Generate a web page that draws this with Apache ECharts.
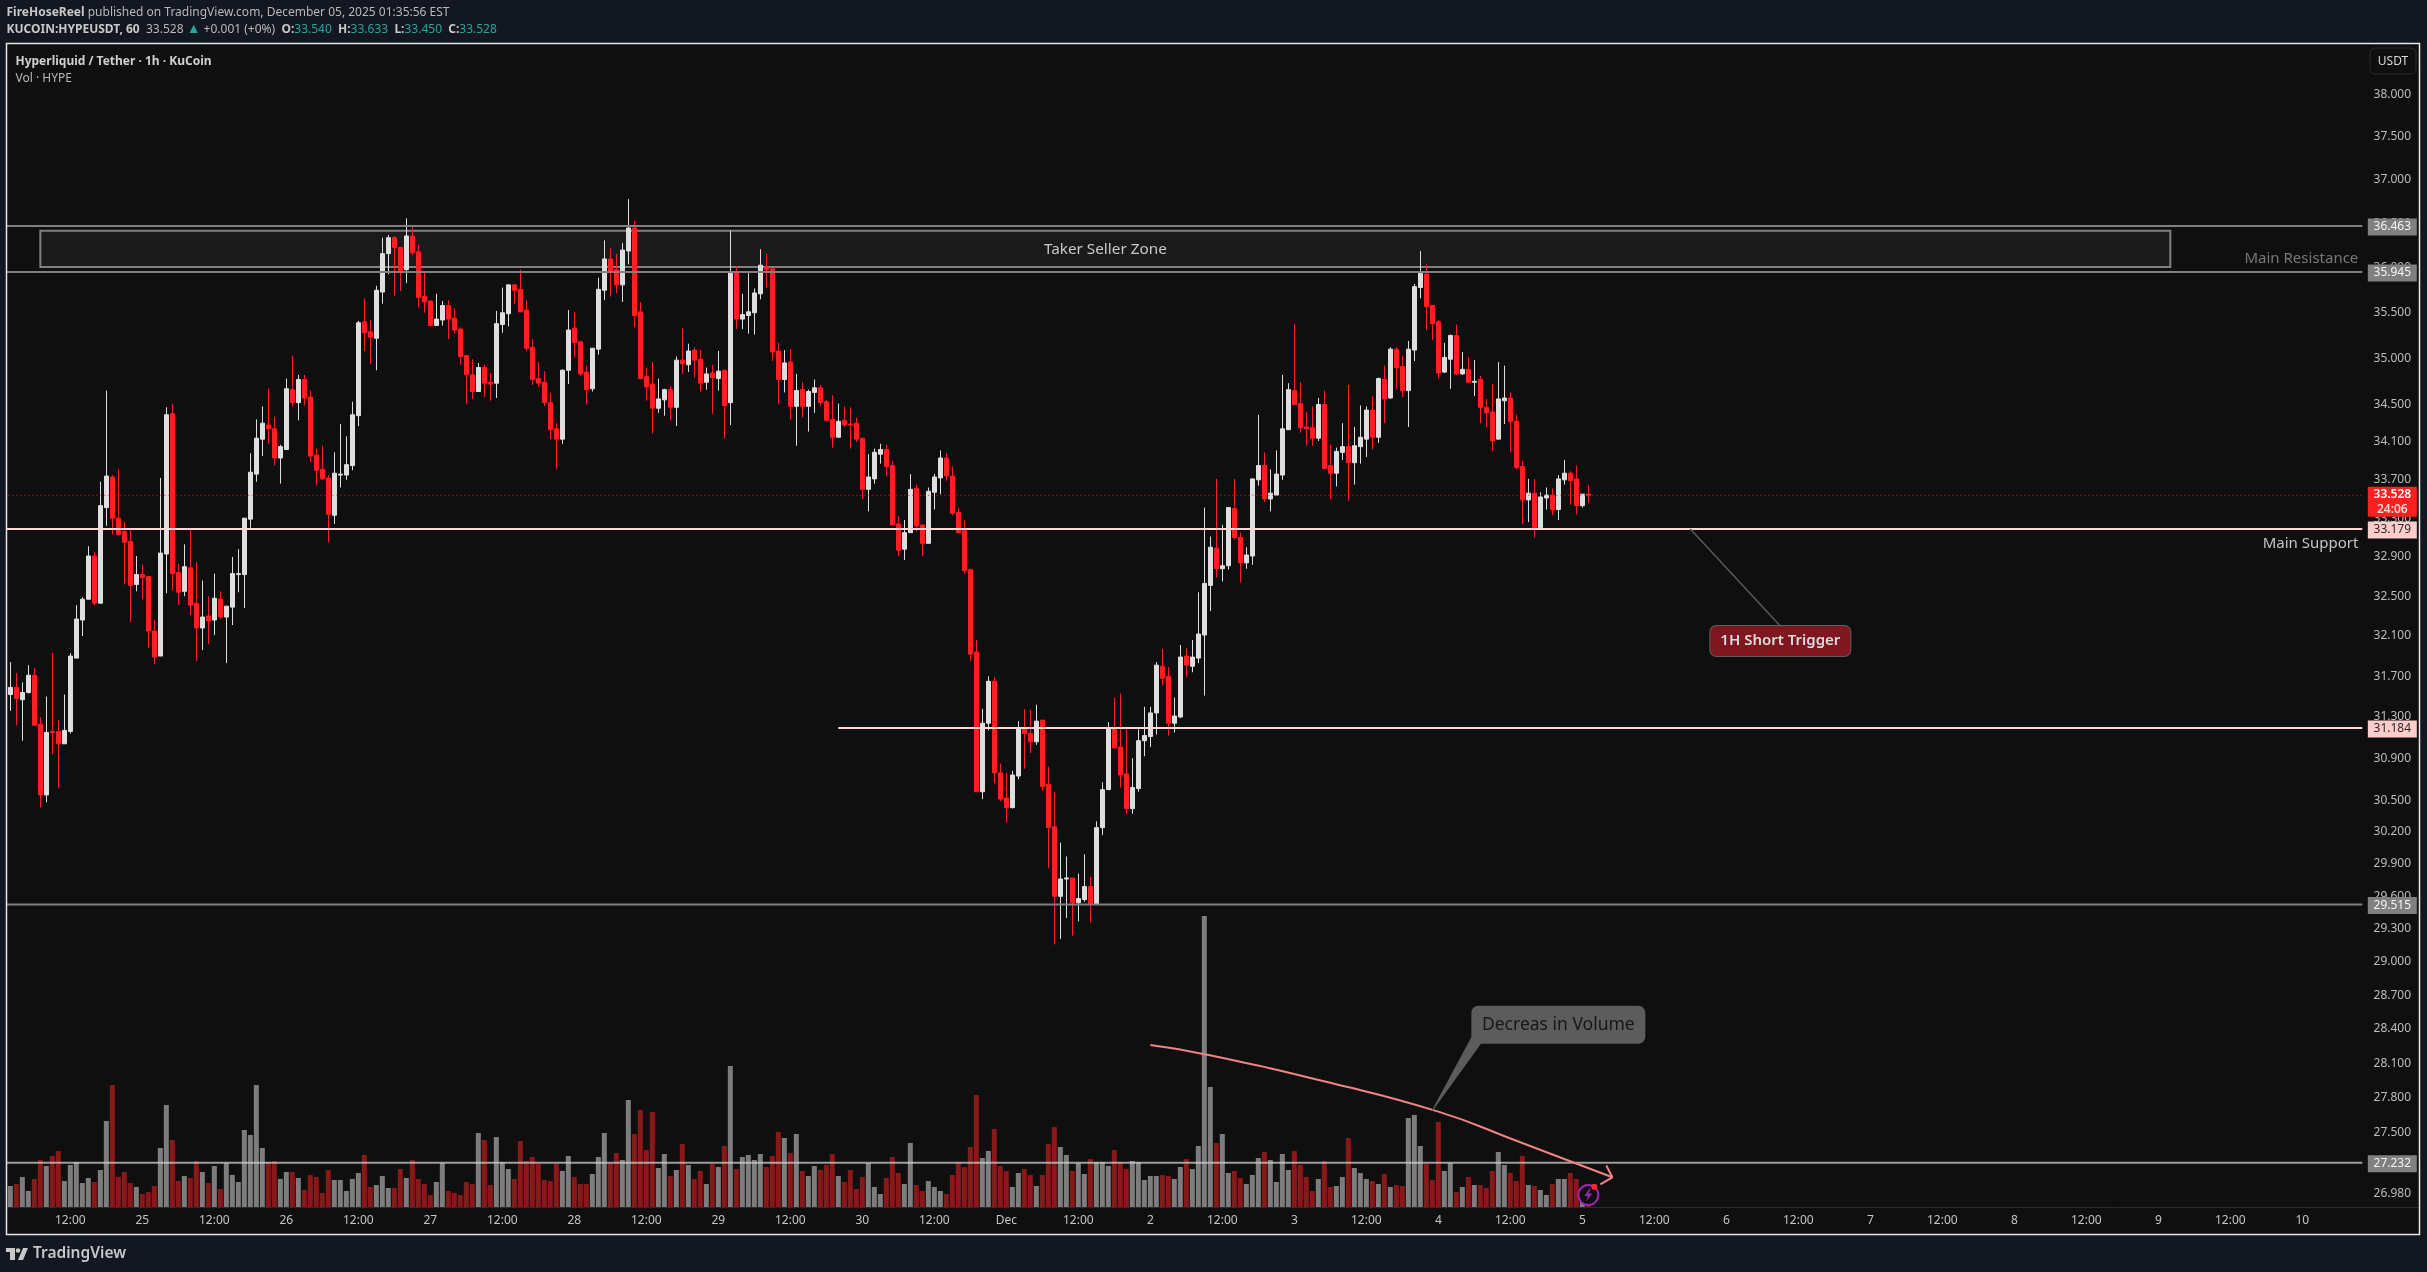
<!DOCTYPE html>
<html>
<head>
<meta charset="utf-8">
<style>
  html, body { margin: 0; padding: 0; background: #131722; }
  #chart { width: 2427px; height: 1272px; }
</style>
<script src="https://cdn.jsdelivr.net/npm/echarts@6/dist/echarts.min.js"></script>
</head>
<body>
<div id="chart"></div>
<script>
// hourly candles, first bar is Nov 24 02:00
const opens = [
  31.51,31.58,31.46,31.53,31.70,31.22,30.54,31.15,31.15,31.03,
  31.15,31.87,32.25,32.46,32.90,32.42,33.40,33.72,33.29,33.15,
  33.05,32.61,32.71,32.69,32.14,31.89,32.92,34.39,32.73,32.54,
  32.78,32.42,32.17,32.29,32.25,32.46,32.28,32.38,32.71,32.71,
  33.28,33.75,34.12,34.27,34.23,33.92,34.01,34.65,34.51,34.76,
  34.57,33.95,33.80,33.71,33.32,33.74,33.74,33.84,34.37,35.39,
  35.28,35.21,35.72,36.15,36.33,36.22,35.97,36.35,36.17,35.67,
  35.62,35.35,35.41,35.57,35.43,35.31,35.02,34.81,34.63,34.89,
  34.73,34.72,35.36,35.48,35.80,35.75,35.52,35.11,34.77,34.73,
  34.51,34.23,34.12,34.86,35.32,35.17,34.84,34.66,35.09,35.74,
  36.09,35.97,35.80,36.18,36.44,35.50,34.79,34.71,34.45,34.54,
  34.65,34.46,34.97,34.92,35.08,34.98,34.73,34.83,34.77,34.86,
  34.51,35.94,35.42,35.46,35.49,35.70,36.00,35.98,35.07,34.76,
  34.95,34.47,34.65,34.47,34.62,34.67,34.52,34.33,34.14,34.32,
  34.28,34.29,34.13,33.59,33.70,33.96,34.01,33.84,33.23,32.97,
  33.14,33.60,33.22,33.03,33.56,33.71,33.92,33.73,33.35,33.16,
  32.76,31.93,30.57,31.23,31.64,30.75,30.51,30.42,30.72,31.18,
  31.13,31.05,31.26,30.64,30.24,29.59,29.75,29.76,29.53,29.56,
  29.68,29.52,30.23,30.59,31.18,31.00,30.74,30.41,30.60,31.06,
  31.10,31.33,31.79,31.69,31.23,31.29,31.89,31.79,31.87,32.10,
  32.60,32.98,32.77,32.80,33.39,33.09,32.83,32.90,33.69,33.84,
  33.49,33.53,33.74,34.22,34.64,34.50,34.25,34.24,34.13,34.49,
  33.84,33.76,33.98,34.04,33.87,34.04,34.12,34.43,34.14,34.76,
  34.56,35.09,34.90,34.64,35.08,35.77,35.92,35.57,35.39,34.84,
  34.98,35.24,34.82,34.87,34.73,34.76,34.46,34.41,34.12,34.53,
  34.56,34.31,33.83,33.48,33.55,33.19,33.50,33.53,33.38,33.69,
  33.76,33.70,33.42,33.54
];
const closes = [
  31.58,31.47,31.53,31.70,31.21,30.54,31.14,31.14,31.03,31.16,
  31.89,32.26,32.46,32.90,32.42,33.42,33.73,33.29,33.12,33.04,
  32.60,32.71,32.68,32.14,31.88,32.93,34.38,32.72,32.53,32.79,
  32.40,32.17,32.28,32.24,32.47,32.28,32.39,32.72,32.72,33.29,
  33.77,34.13,34.29,34.23,33.92,34.04,34.66,34.51,34.76,34.56,
  33.94,33.79,33.70,33.33,33.76,33.75,33.85,34.38,35.38,35.27,
  35.22,35.74,36.15,36.33,36.22,35.95,36.35,36.16,35.66,35.61,
  35.35,35.42,35.57,35.42,35.30,35.01,34.81,34.63,34.89,34.72,
  34.71,35.37,35.49,35.80,35.74,35.50,35.10,34.76,34.72,34.51,
  34.22,34.12,34.86,35.30,35.16,34.82,34.65,35.10,35.75,36.09,
  35.94,35.80,36.19,36.44,35.46,34.77,34.68,34.45,34.55,34.65,
  34.46,34.97,34.93,35.07,34.97,34.72,34.82,34.78,34.85,34.48,
  35.94,35.42,35.47,35.50,35.71,36.02,35.97,35.06,34.76,34.94,
  34.47,34.64,34.47,34.63,34.67,34.51,34.32,34.14,34.31,34.27,
  34.27,34.12,33.59,33.72,33.98,34.01,33.83,33.22,32.96,33.14,
  33.59,33.21,33.03,33.57,33.72,33.92,33.73,33.34,33.14,32.75,
  31.91,30.57,31.23,31.64,30.75,30.50,30.42,30.73,31.18,31.13,
  31.05,31.25,30.62,30.23,29.59,29.75,29.76,29.53,29.57,29.68,
  29.52,30.23,30.59,31.18,30.99,30.73,30.41,30.61,31.06,31.11,
  31.33,31.80,31.67,31.23,31.30,31.88,31.80,31.88,32.11,32.62,
  32.99,32.77,32.80,33.40,33.09,32.83,32.91,33.70,33.84,33.49,
  33.55,33.75,34.23,34.65,34.49,34.24,34.23,34.13,34.49,33.81,
  33.76,33.99,34.04,33.87,34.05,34.14,34.43,34.14,34.77,34.55,
  35.09,34.89,34.64,35.09,35.78,35.93,35.56,35.37,34.83,35.00,
  35.24,34.82,34.87,34.73,34.74,34.46,34.40,34.10,34.55,34.56,
  34.31,33.82,33.48,33.55,33.19,33.51,33.53,33.38,33.70,33.76,
  33.68,33.42,33.54,33.528
];
const highs = [
  31.83,31.72,31.63,31.80,31.77,31.29,31.49,31.92,31.26,31.51,
  31.92,32.40,32.48,33.00,32.94,33.67,34.64,33.74,33.80,33.25,
  33.18,32.90,32.81,32.69,32.25,33.71,34.46,34.50,32.82,33.02,
  33.17,32.84,32.65,32.49,32.72,32.54,32.39,32.89,32.97,33.29,
  33.97,34.33,34.47,34.66,34.36,34.06,34.77,35.02,34.81,34.81,
  34.64,34.02,34.05,33.74,33.98,34.28,34.15,34.52,35.40,35.65,
  35.41,35.79,36.33,36.36,36.35,36.22,36.55,36.46,36.25,35.94,
  35.63,35.70,35.62,35.63,35.54,35.33,35.02,34.98,34.94,34.92,
  34.83,35.51,35.77,35.80,35.81,35.97,35.63,35.20,34.95,34.85,
  34.61,34.29,34.87,35.52,35.50,35.17,34.91,35.10,35.88,36.30,
  36.21,36.15,36.27,36.77,36.52,35.61,34.89,34.95,34.77,34.66,
  34.69,35.01,35.32,35.15,35.11,35.08,34.89,34.92,35.07,34.86,
  36.41,36.01,35.70,35.93,35.76,36.20,36.15,35.99,35.16,35.08,
  35.09,34.82,34.73,34.65,34.76,34.70,34.54,34.59,34.50,34.47,
  34.46,34.35,34.13,33.96,34.02,34.07,34.06,33.89,33.31,33.27,
  33.75,33.64,33.22,33.61,33.75,34.00,33.97,33.83,33.40,33.27,
  32.77,32.05,31.37,31.69,31.68,30.84,30.75,30.77,31.25,31.37,
  31.36,31.41,31.26,30.81,30.57,30.09,29.96,29.76,29.80,29.98,
  29.77,30.29,30.66,31.24,31.48,31.52,31.17,30.89,31.17,31.39,
  31.39,31.83,31.96,31.78,31.48,32.00,31.97,32.05,32.53,33.40,
  33.10,33.70,33.22,33.40,33.70,33.14,32.99,33.70,34.38,33.98,
  33.80,34.00,34.81,34.72,35.37,34.73,34.41,34.47,34.56,34.64,
  34.06,34.03,34.29,34.70,34.25,34.48,34.47,34.58,34.78,34.91,
  35.11,35.11,35.02,35.18,35.81,36.18,36.03,35.57,35.41,35.16,
  35.25,35.36,35.06,35.00,34.97,34.80,34.55,34.71,34.95,34.91,
  34.62,34.38,33.89,33.70,33.70,33.56,33.61,33.60,33.74,33.90,
  33.78,33.84,33.54,33.633
];
const lows = [
  31.35,31.21,31.06,31.52,31.21,30.42,30.47,30.93,30.61,31.03,
  31.13,31.87,32.09,32.46,32.40,32.42,33.21,33.12,33.12,32.61,
  32.23,32.54,32.46,31.97,31.81,31.89,32.52,32.55,32.40,32.49,
  32.30,31.84,31.95,32.01,32.10,32.26,31.82,32.20,32.53,32.37,
  33.19,33.67,33.94,34.07,33.84,33.65,34.01,34.47,34.32,34.48,
  33.88,33.63,33.69,33.04,33.23,33.61,33.69,33.79,34.26,35.07,
  34.93,34.86,35.59,35.92,35.68,35.73,35.82,36.13,35.55,35.49,
  35.34,35.35,35.35,35.20,35.26,34.92,34.50,34.55,34.63,34.57,
  34.53,34.56,35.27,35.34,35.59,35.50,35.07,34.70,34.68,34.47,
  34.12,33.80,34.07,34.71,35.00,34.80,34.49,34.63,35.03,35.63,
  35.67,35.71,35.61,36.03,35.33,34.76,34.53,34.18,34.40,34.37,
  34.32,34.26,34.82,34.84,34.78,34.63,34.65,34.39,34.64,34.13,
  34.27,35.31,35.31,35.26,35.25,35.64,35.77,34.96,34.50,34.62,
  34.33,34.05,34.35,34.20,34.40,34.47,34.31,34.03,34.14,34.25,
  34.02,34.09,33.49,33.36,33.65,33.86,33.73,33.22,32.90,32.86,
  33.14,33.15,32.90,33.03,33.38,33.54,33.68,33.32,33.13,32.72,
  31.84,30.57,30.50,31.16,30.65,30.48,30.28,30.41,30.69,30.79,
  30.94,31.02,30.58,29.85,29.15,29.20,29.39,29.23,29.36,29.54,
  29.35,29.52,30.16,30.59,30.99,30.61,30.36,30.36,30.57,30.91,
  31.00,31.12,31.60,31.11,31.14,31.28,31.68,31.73,31.82,31.50,
  32.34,32.68,32.64,32.76,33.07,32.63,32.77,32.81,33.63,33.46,
  33.36,33.53,33.69,34.22,34.49,34.19,34.05,34.05,34.10,33.81,
  33.49,33.62,33.90,33.47,33.64,33.86,33.93,34.01,34.08,34.29,
  34.55,34.65,34.57,34.25,34.96,35.65,35.30,35.19,34.77,34.83,
  34.66,34.81,34.81,34.73,34.58,34.29,34.25,34.00,34.12,34.28,
  33.98,33.80,33.23,33.25,33.09,33.19,33.38,33.32,33.27,33.64,
  33.43,33.33,33.40,33.45
];
const volumes = [
  21,23,30,16,28,47,41,51,56,26, 42,45,24,29,25,37,86,122,30,35,
  24,20,13,15,21,59,102,67,26,31, 29,46,35,24,41,18,44,32,25,77,
  72,122,59,45,46,28,35,35,29,17, 32,30,14,37,27,27,16,28,34,52,
  20,22,31,19,19,38,29,47,28,23, 12,25,44,16,14,12,25,23,74,67,
  22,70,45,38,28,66,46,50,43,27, 26,43,36,51,30,23,23,33,50,74,
  44,54,47,107,73,97,57,95,39,53, 31,37,63,42,28,36,23,43,40,61,
  141,38,50,52,47,53,40,51,75,69, 54,73,36,31,41,37,42,53,31,25,
  37,18,30,44,20,13,29,50,34,23, 64,22,16,26,20,16,13,32,45,40,
  60,112,49,56,78,41,36,20,34,38, 32,21,32,63,80,60,52,36,44,33,
  48,45,45,41,57,45,38,46,45,27, 31,31,32,31,28,40,48,38,61,291,
  120,64,73,34,36,29,23,32,49,55, 47,25,53,37,56,42,30,16,28,46,
  20,21,30,69,39,34,28,26,23,33, 20,22,21,89,92,61,43,27,85,36,
  44,15,20,30,22,22,19,36,55,42, 34,26,51,22,21,17,12,23,28,28,
  34,28,12,2
];

// time axis labels, one every 12 bars from 12:00 on Nov 24
const timeLabels = ['12:00','25','12:00','26','12:00','27','12:00','28','12:00','29','12:00','30','12:00','Dec','12:00','2','12:00','3','12:00','4','12:00','5','12:00','6','12:00','7','12:00','8','12:00','9','12:00','10'];
const priceTicks = [38,37.5,37,36.5,36,35.5,35,34.5,34.1,33.7,33.3,32.9,32.5,32.1,31.7,31.3,30.9,30.5,30.2,29.9,29.6,29.3,29,28.7,28.4,28.1,27.8,27.5,27.2,26.98];

// drawn levels
const lastPrice = 33.528;
const grayLevels = [36.463, 35.945, 29.515, 27.232];
const pinkLevels = [33.179, 31.184];
const zoneTop = 36.41, zoneBottom = 36.0;
const curveBars = [191, 200, 221, 239, 252, 268];
const curvePrices = [28.25, 28.17, 27.92, 27.67, 27.42, 27.11];

const FONT = '"Noto Sans", sans-serif';
const PAD = 1;           // one empty slot before the first bar
const SLOTS = 403;
const AXIS_END = 393;    // slot where the price panel starts
const SCALE_SLOT = 398;  // middle of the price panel

const categories = new Array(SLOTS).fill('');
timeLabels.forEach(function (t, k) { categories[PAD + 10 + 12 * k] = t; });

const candleData = [['-', '-', '-', '-']];
const volumeData = ['-'];
opens.forEach(function (o, i) {
  candleData.push([o, closes[i], lows[i], highs[i]]);
  volumeData.push({ value: volumes[i], itemStyle: { color: closes[i] >= o ? '#7d7d7d' : '#8a1818' } });
});

// flat line across the chart at a price
function levelLine(value, from, color, width, type) {
  return {
    type: 'line', xAxisIndex: 0, yAxisIndex: 0, z: 4, silent: true, symbol: 'none', animation: false,
    lineStyle: { color: color, width: width, type: type || 'solid' },
    data: [[from, value], [AXIS_END, value]]
  };
}
function pathLine(pts, color, width, smooth) {
  return {
    type: 'line', z: 5, silent: true, symbol: 'none', animation: false, smooth: smooth || false,
    lineStyle: { color: color, width: width }, data: pts
  };
}
function polygon(pts, fill, stroke, width, z) {
  return {
    type: 'custom', z: z, silent: true, animation: false, clip: false, data: pts,
    encode: { x: 0, y: 1 },
    renderItem: function (params, api) {
      if (params.dataIndex !== 0) return null;
      return {
        type: 'polygon',
        shape: { points: pts.map(function (p) { return api.coord(p); }) },
        style: { fill: fill, stroke: stroke, lineWidth: width }
      };
    }
  };
}
// text or box pinned to a data position
function tag(x, price, label, z) {
  return {
    type: 'scatter', z: z || 8, silent: true, symbolSize: 0, animation: false, clip: false,
    itemStyle: { opacity: 1 },
    data: [[x, price]],
    label: Object.assign({ show: true, position: 'inside', fontFamily: FONT }, label)
  };
}
function levelTag(value, bg, color) {
  return tag(SCALE_SLOT, value, {
    formatter: value.toFixed(3), width: 49, height: 17, lineHeight: 17, align: 'center', verticalAlign: 'middle',
    backgroundColor: bg, color: color, fontSize: 12, offset: [0, 1]
  }, 9);
}

const series = [
  polygon([[6, zoneTop], [361, zoneTop], [361, zoneBottom], [6, zoneBottom]], '#1a1a1a', '#808080', 2, 1),
  {
    type: 'bar', xAxisIndex: 0, yAxisIndex: 1, barWidth: 5, z: 1, silent: true, animation: false, data: volumeData
  },
  {
    type: 'candlestick', xAxisIndex: 0, yAxisIndex: 0, barWidth: 4, z: 3, silent: true, animation: false,
    itemStyle: { color: '#dedede', borderColor: '#dedede', color0: '#ff1f1f', borderColor0: '#ff1f1f', borderWidth: 1 },
    data: candleData
  },
  levelLine(lastPrice, 0, '#d32f2f', 1, [1, 3])
];
grayLevels.forEach(function (v) {
  series.push(levelLine(v, 0, v === 27.232 ? 'rgba(205,205,205,0.75)' : '#808080', 2));
  series.push(levelTag(v, '#808080', '#f4f4f4'));
});
pinkLevels.forEach(function (v, k) {
  series.push(levelLine(v, k === 0 ? 0 : 139, '#ffd6d6', 2));
  series.push(levelTag(v, '#ffcccc', '#2a2a2a'));
});

// price scale text
priceTicks.forEach(function (v) {
  series.push(tag(SCALE_SLOT, v, { formatter: v.toFixed(3), color: '#bdbdbd', fontSize: 12, align: 'center', verticalAlign: 'middle', offset: [0, 1] }, 6));
});

series.push(tag(SCALE_SLOT, 33.46, {
  formatter: '{a|33.528}\n{b|24:06}', width: 49, height: 30, align: 'center', verticalAlign: 'middle',
  backgroundColor: '#ff1f1f',
  rich: {
    a: { color: '#ffffff', fontSize: 12, lineHeight: 15, fontFamily: FONT, fontWeight: 600 },
    b: { color: '#ffd6d6', fontSize: 12, lineHeight: 15, fontFamily: FONT, fontWeight: 600 }
  }
}, 9));

// chart notes
series.push(tag(183, 36.19, { formatter: 'Taker Seller Zone', color: '#c8c8c8', fontSize: 15.3, align: 'center', verticalAlign: 'middle', offset: [3, 0] }));
series.push(tag(392, 36.10, { formatter: 'Main Resistance', color: '#777777', fontSize: 15, align: 'right', verticalAlign: 'middle', offset: [2, 1] }));
series.push(tag(392, 33.03, { formatter: 'Main Support', color: '#c4c4c4', fontSize: 15, align: 'right', verticalAlign: 'middle', offset: [2, 0] }));

series.push({
  type: 'line', z: 5, silent: true, animation: false, symbol: 'none',
  lineStyle: { color: '#5a5a5a', width: 1.5 },
  data: [{ value: [281, 33.179], symbol: 'circle', symbolSize: 7, itemStyle: { color: '#666666' } }, [296, 32.19]]
});
series.push(tag(296, 32.04, {
  formatter: '1H Short Trigger', width: 140, height: 30, lineHeight: 30, align: 'center', verticalAlign: 'middle',
  backgroundColor: '#7f1720', borderColor: '#5e5e5e', borderWidth: 1, borderRadius: 6,
  color: '#dcdcdc', fontSize: 15, fontWeight: 600
}));

series.push(polygon([[245, 28.36], [246, 28.26], [238, 27.68]], '#5c5c5c', '#5c5c5c', 1, 6));
series.push(tag(259, 28.43, {
  formatter: 'Decreas in Volume', width: 174, height: 38, lineHeight: 38, align: 'center', verticalAlign: 'middle',
  backgroundColor: '#5c5c5c', borderRadius: 7, color: '#171717', fontSize: 17.5
}));

series.push(pathLine(curveBars.map(function (b, i) { return [b, curvePrices[i]]; }), '#f08484', 2, true));
series.push(pathLine([[267, 27.21], [268, 27.11], [266, 27.05]], '#f08484', 2));

// realtime marker next to the last volume bar
series.push({
  type: 'scatter', z: 7, silent: true, animation: false, clip: false, symbol: 'circle', symbolSize: 20,
  itemStyle: { color: '#0f0f0f', borderColor: '#9c27b0', borderWidth: 2, opacity: 1 }, data: [[264, 26.96]]
});
series.push({
  type: 'scatter', z: 8, silent: true, animation: false, clip: false,
  symbol: 'path://M6 0 L0 9 L4 9 L2 16 L9 6 L5 6 L7 0 Z', symbolSize: [8, 13],
  itemStyle: { color: '#9c27b0', opacity: 1 }, data: [[264, 26.96]]
});
series.push({
  type: 'scatter', z: 9, silent: true, animation: false, clip: false, symbol: 'circle', symbolSize: 6,
  itemStyle: { color: '#ff2a2a', opacity: 1 }, data: [[265, 27.03]]
});

const chart = echarts.init(document.getElementById('chart'), null, { renderer: 'canvas' });
chart.setOption({
  animation: false,
  backgroundColor: '#131722',
  textStyle: { fontFamily: FONT },
  grid: { left: 1.33, top: 44, width: 2418, height: 1163, show: false },
  xAxis: {
    type: 'category', data: categories, boundaryGap: true,
    axisLine: { lineStyle: { color: '#2a2a2a', width: 1 } },
    axisTick: { show: false },
    splitLine: { show: false },
    axisLabel: {
      color: '#c4c4c4', fontSize: 12, margin: 8, fontFamily: FONT, hideOverlap: false,
      interval: function (i, v) { return v !== ''; }
    }
  },
  yAxis: [
    { type: 'log', logBase: 10, min: 26.86, max: 38.59, axisLine: { show: false }, axisTick: { show: false }, axisLabel: { show: false }, splitLine: { show: false } },
    { type: 'value', min: 0, max: 1163, axisLine: { show: false }, axisTick: { show: false }, axisLabel: { show: false }, splitLine: { show: false } }
  ],
  series: series,
  graphic: [
    { type: 'rect', z: -10, shape: { x: 6, y: 43, width: 2414, height: 1192 }, style: { fill: '#0f0f0f' } },
    // covers whatever the first slot pushes past the frame
    { type: 'rect', z: 100, shape: { x: 0, y: 43, width: 6, height: 1192 }, style: { fill: '#131722' } },
    { type: 'rect', z: 100, shape: { x: 6.5, y: 43.5, width: 2413, height: 1191 }, style: { fill: 'none', stroke: '#e6e6e6', lineWidth: 1.5 } },
    {
      type: 'text', z: 100, x: 6.5, y: 12.5,
      style: {
        text: '{b|FireHoseReel} {n|published on TradingView.com, December 05, 2025 01:35:56 EST}',
        verticalAlign: 'middle', fontFamily: FONT,
        rich: {
          b: { fontFamily: FONT, fontSize: 12, fontWeight: 700, fill: '#c8c8c8' },
          n: { fontFamily: FONT, fontSize: 12, fill: '#b8b8b8' }
        }
      }
    },
    {
      type: 'text', z: 100, x: 6.5, y: 29.5,
      style: {
        text: '{b|KUCOIN:HYPEUSDT, 60}  {n|33.528} {a|▲} {n|+0.001 (+0%)}  {b|O:}{t|33.540}  {b|H:}{t|33.633}  {b|L:}{t|33.450}  {b|C:}{t|33.528}',
        verticalAlign: 'middle', fontFamily: FONT,
        rich: {
          b: { fontFamily: FONT, fontSize: 12, fontWeight: 700, fill: '#c8c8c8' },
          n: { fontFamily: FONT, fontSize: 12, fill: '#b8b8b8' },
          t: { fontFamily: FONT, fontSize: 12, fill: '#26a69a' },
          a: { fontFamily: FONT, fontSize: 14, fill: '#26a69a' }
        }
      }
    },
    { type: 'text', z: 100, x: 15.5, y: 61.5, style: { text: 'Hyperliquid / Tether · 1h · KuCoin', fontFamily: FONT, fontSize: 12, fontWeight: 700, fill: '#d0d0d0', verticalAlign: 'middle' } },
    { type: 'text', z: 100, x: 15.5, y: 78.5, style: { text: 'Vol · HYPE', fontFamily: FONT, fontSize: 12, fill: '#b8b8b8', verticalAlign: 'middle' } },
    { type: 'rect', z: 100, shape: { x: 2370, y: 48, width: 46, height: 26, r: 5 }, style: { fill: '#0f0f0f', stroke: '#2a2a2a', lineWidth: 1 } },
    { type: 'text', z: 101, x: 2393, y: 61.5, style: { text: 'USDT', fontFamily: FONT, fontSize: 12, fill: '#d8d8d8', align: 'center', verticalAlign: 'middle' } },
    // TradingView mark
    { type: 'polygon', z: 100, shape: { points: [[6, 1248], [15, 1248], [15, 1260], [10, 1260], [10, 1252], [6, 1252]] }, style: { fill: '#c8c8c8' } },
    { type: 'circle', z: 100, shape: { cx: 18, cy: 1250.5, r: 2.3 }, style: { fill: '#c8c8c8' } },
    { type: 'polygon', z: 100, shape: { points: [[23, 1248], [28, 1248], [23, 1260], [18, 1260]] }, style: { fill: '#c8c8c8' } },
    { type: 'text', z: 100, x: 33, y: 1254, style: { text: 'TradingView', fontFamily: FONT, fontSize: 15.5, fontWeight: 600, fill: '#c8c8c8', verticalAlign: 'middle' } }
  ]
});
</script>
</body>
</html>
